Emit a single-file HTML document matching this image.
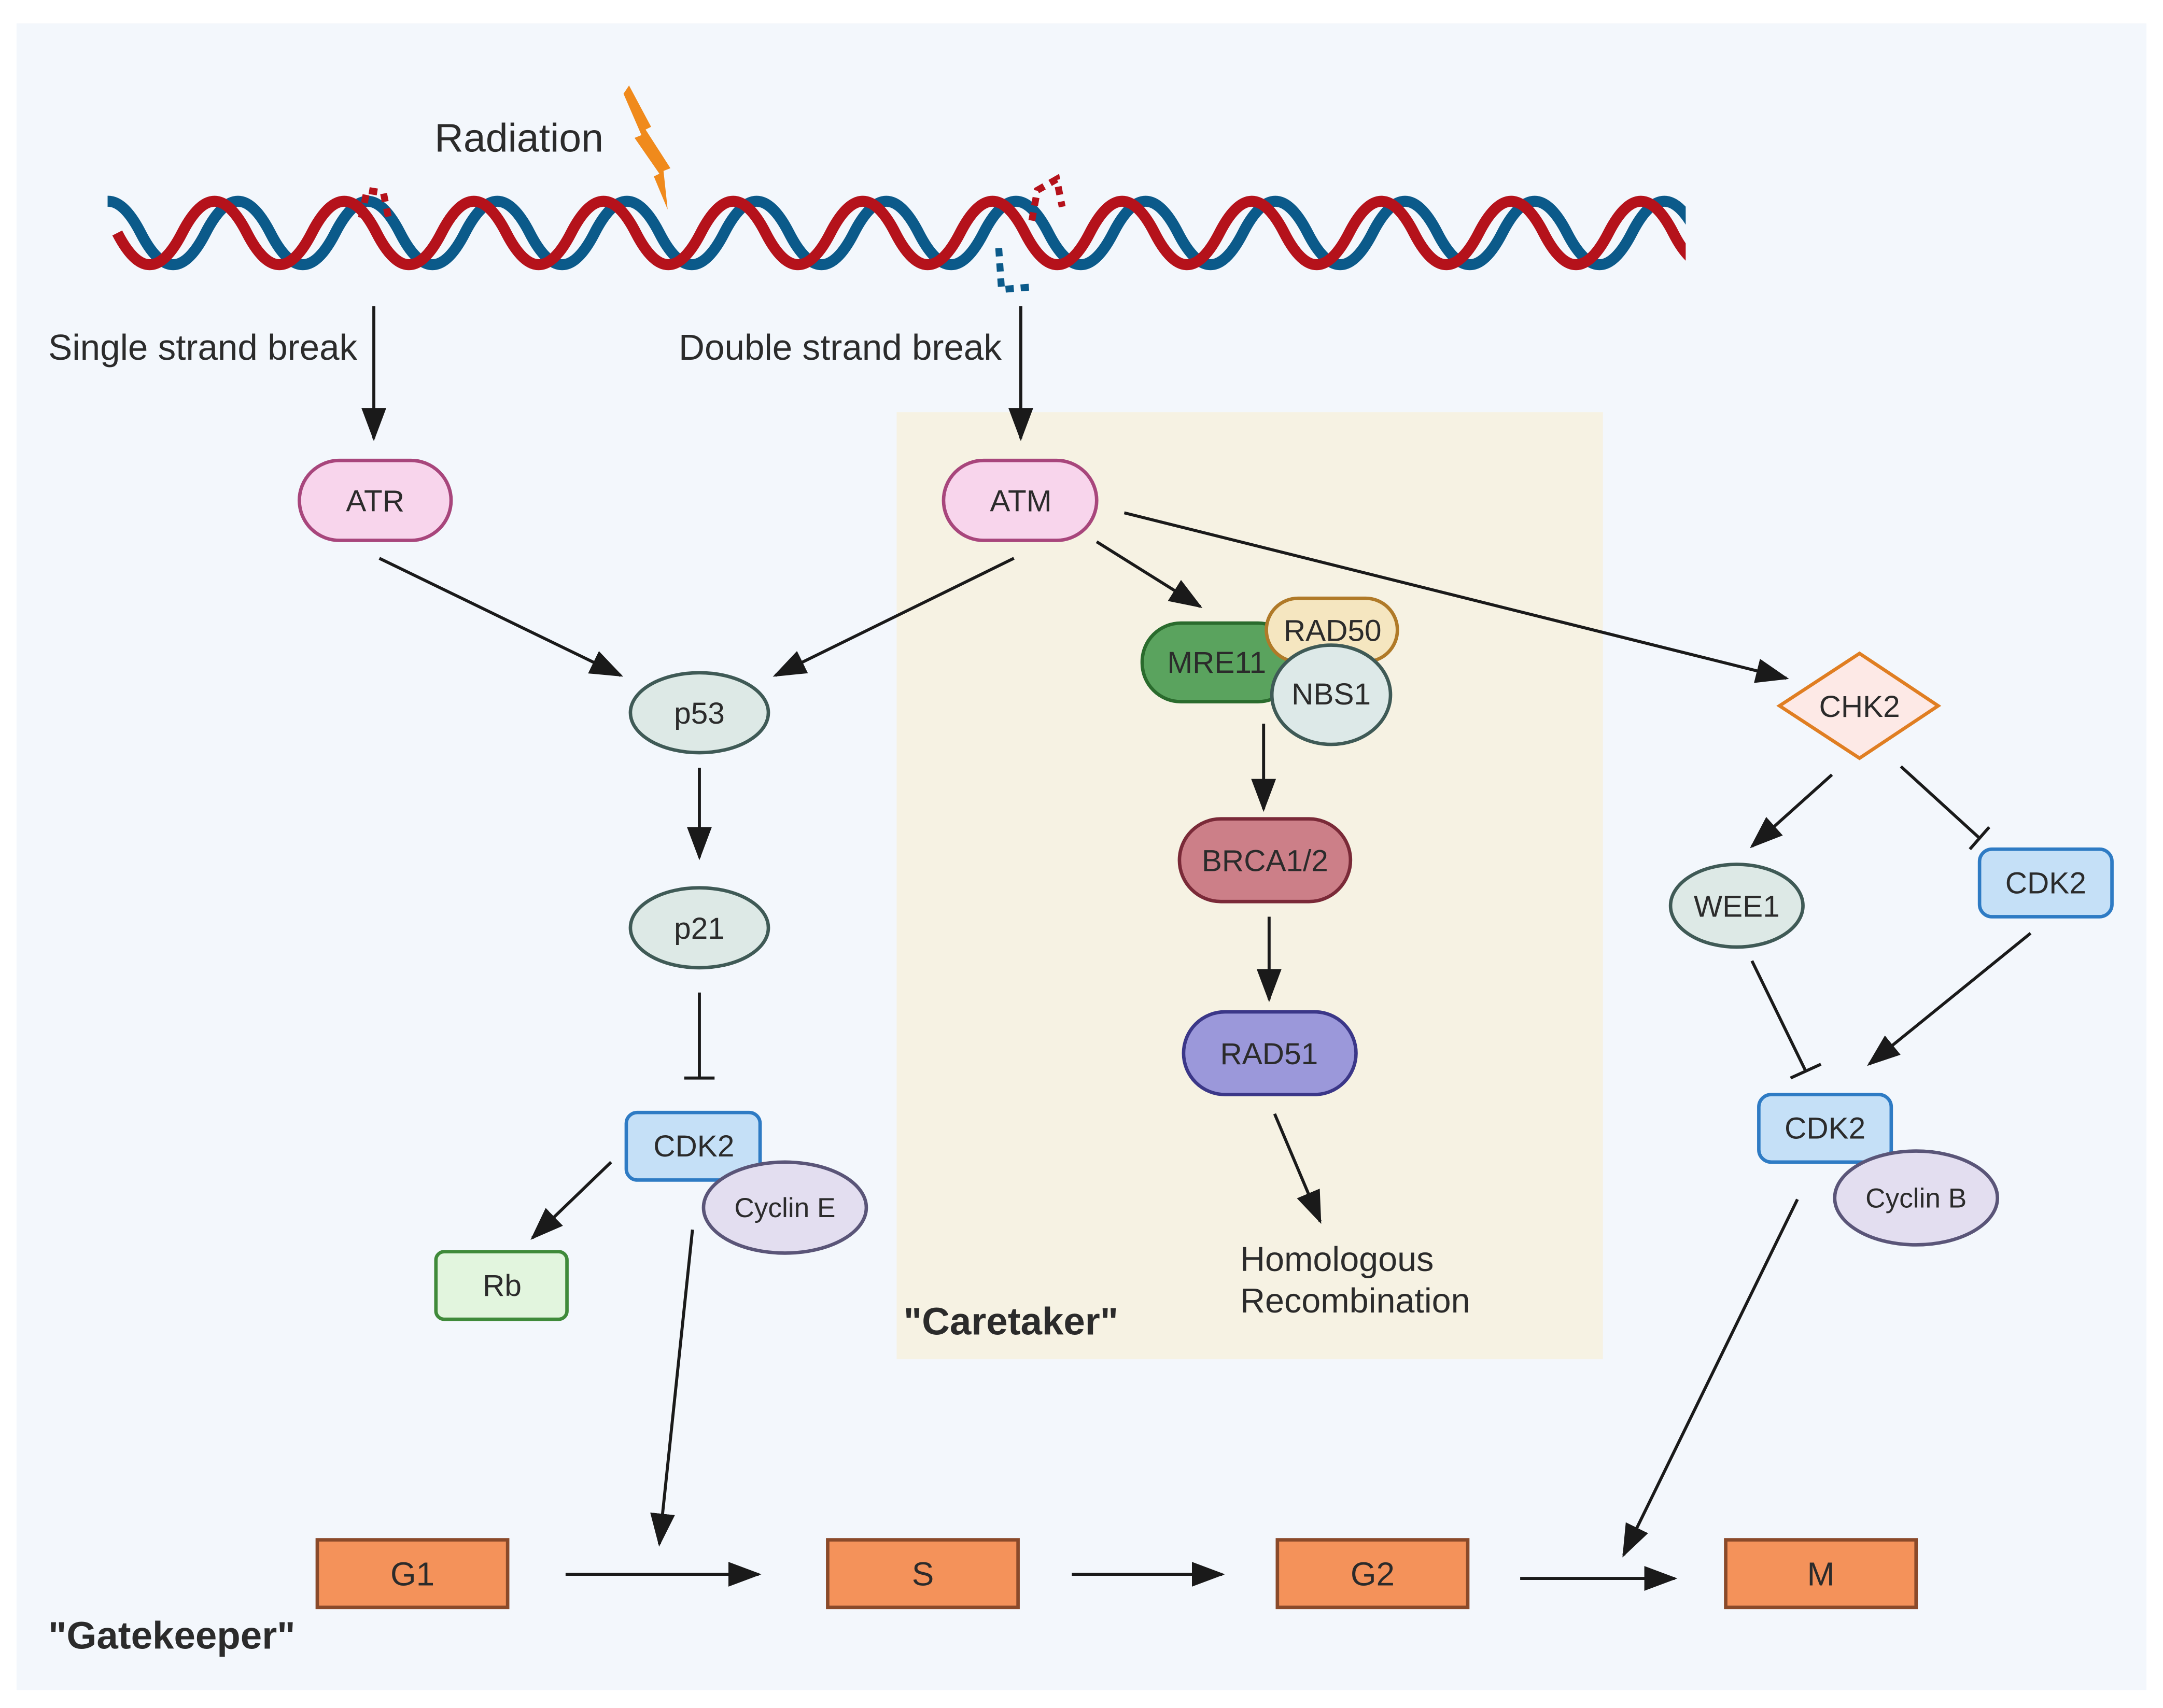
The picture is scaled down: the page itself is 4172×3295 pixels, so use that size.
<!DOCTYPE html>
<html><head><meta charset="utf-8"><style>html,body{margin:0;padding:0;background:#fff}svg{display:block}text{font-family:"Liberation Sans",sans-serif;fill:#2b2b2b}</style></head>
<body>
<svg width="4172" height="3295" viewBox="0 0 1568 1239" preserveAspectRatio="none" xmlns="http://www.w3.org/2000/svg">
<defs>
<marker id="a" markerUnits="userSpaceOnUse" markerWidth="26" markerHeight="20" refX="22" refY="9" orient="auto"><path d="M0,0 L24,9 L0,18 Z" fill="#1a1a1a"/></marker>
<clipPath id="c"><rect x="78" y="110" width="1144" height="110"/></clipPath>
</defs>
<rect x="0" y="0" width="1568" height="1239" fill="#fff"/>
<rect x="12" y="17" width="1544" height="1209" fill="#f3f7fc"/>
<rect x="650" y="299" width="512" height="687" fill="#f6f2e3"/>

<g clip-path="url(#c)" fill="none" stroke-width="8">
<path stroke="#0b5a8a" d="M55,169 Q78.5,123 102,169 T149,169 T196,169 T243,169 T290,169 T337,169 T384,169 T431,169 T478,169 T525,169 T572,169 T619,169 T666,169 T713,169 T760,169 T807,169 T854,169 T901,169 T948,169 T995,169 T1042,169 T1089,169 T1136,169 T1183,169 T1230,169 T1277,169"/>
<path stroke="#b5121b" d="M85,169 Q108.5,215 132,169 T179,169 T226,169 T273,169 T320,169 T367,169 T414,169 T461,169 T508,169 T555,169 T602,169 T649,169 T696,169 T743,169 T790,169 T837,169 T884,169 T931,169 T978,169 T1025,169 T1072,169 T1119,169 T1166,169 T1213,169 T1260,169"/>
</g>
<g stroke="#b5121b" stroke-width="5" stroke-dasharray="6 5" fill="none">
<path d="M262,158 L266,138 L278,140 L282,160"/>
<path d="M748,160 L752,138 L766,130 L770,150"/>
</g>
<g stroke="#0b5a8a" stroke-width="5" stroke-dasharray="6 5" fill="none">
<path d="M724,180 L726,210 L750,208"/>
</g>
<path d="M456,62 L472,92 L468,94 L486,122 L481,124 L484,152 L474,128 L478,126 L460,100 L465,98 L452,68 Z" fill="#f08a1c"/>

<text x="315" y="110" font-size="29">Radiation</text>
<text x="35" y="261" font-size="26">Single strand break</text>
<text x="492" y="261" font-size="26">Double strand break</text>

<g stroke="#1a1a1a" stroke-width="2.2" fill="none">
<line x1="271" y1="222" x2="271" y2="318" marker-end="url(#a)"/>
<line x1="740" y1="222" x2="740" y2="318" marker-end="url(#a)"/>
<line x1="275" y1="405" x2="450" y2="490" marker-end="url(#a)"/>
<line x1="735" y1="405" x2="562" y2="490" marker-end="url(#a)"/>
<line x1="795" y1="393" x2="870" y2="440" marker-end="url(#a)"/>
<line x1="815" y1="372" x2="1295" y2="492" marker-end="url(#a)"/>
<line x1="507" y1="557" x2="507" y2="622" marker-end="url(#a)"/>
<line x1="507" y1="720" x2="507" y2="782"/><line x1="496" y1="782" x2="518" y2="782"/>
<line x1="443" y1="843" x2="386" y2="898" marker-end="url(#a)"/>
<line x1="502" y1="892" x2="478" y2="1120" marker-end="url(#a)"/>
<line x1="916" y1="525" x2="916" y2="587" marker-end="url(#a)"/>
<line x1="920" y1="665" x2="920" y2="725" marker-end="url(#a)"/>
<line x1="924" y1="808" x2="957" y2="886" marker-end="url(#a)"/>
<line x1="1328" y1="562" x2="1270" y2="614" marker-end="url(#a)"/>
<line x1="1378" y1="556" x2="1435" y2="608"/><line x1="1428" y1="616" x2="1442" y2="600"/>
<line x1="1270" y1="697" x2="1309" y2="777"/><line x1="1298" y1="782" x2="1320" y2="772"/>
<line x1="1472" y1="677" x2="1355" y2="772" marker-end="url(#a)"/>
<line x1="1303" y1="870" x2="1177" y2="1128" marker-end="url(#a)"/>
<line x1="410" y1="1142" x2="550" y2="1142" marker-end="url(#a)"/>
<line x1="777" y1="1142" x2="886" y2="1142" marker-end="url(#a)"/>
<line x1="1102" y1="1145" x2="1214" y2="1145" marker-end="url(#a)"/>
</g>

<g stroke-width="2.5" font-size="22" text-anchor="middle">
<rect x="217" y="334" width="110" height="58" rx="29" fill="#f8d5ec" stroke="#a8467c"/>
<text x="272" y="371" stroke="none">ATR</text>
<rect x="684" y="334" width="111" height="58" rx="29" fill="#f8d5ec" stroke="#a8467c"/>
<text x="740" y="371" stroke="none">ATM</text>
<ellipse cx="507" cy="517" rx="50" ry="29" fill="#dde9e6" stroke="#3f5a56"/>
<text x="507" y="525" stroke="none">p53</text>
<ellipse cx="507" cy="673" rx="50" ry="29" fill="#dde9e6" stroke="#3f5a56"/>
<text x="507" y="681" stroke="none">p21</text>
<rect x="454" y="807" width="97" height="49" rx="8" fill="#c5e0f7" stroke="#2e7bc4"/>
<text x="503" y="839" stroke="none">CDK2</text>
<ellipse cx="569" cy="876" rx="59" ry="33" fill="#e3def0" stroke="#5a5578"/>
<text x="569" y="883" stroke="none" font-size="20">Cyclin E</text>
<rect x="316" y="908" width="95" height="49" rx="6" fill="#e2f5de" stroke="#3f8a3a"/>
<text x="364" y="940" stroke="none">Rb</text>
<rect x="828" y="452" width="112" height="57" rx="28" fill="#5aa35e" stroke="#2a6b2d"/>
<text x="882" y="488" stroke="none">MRE11</text>
<rect x="918" y="434" width="95" height="46" rx="23" fill="#f5e6c0" stroke="#b07a28"/>
<text x="966" y="465" stroke="none">RAD50</text>
<ellipse cx="965" cy="504" rx="43" ry="36" fill="#dde9e8" stroke="#3f5a56"/>
<text x="965" y="511" stroke="none">NBS1</text>
<rect x="855" y="594" width="124" height="60" rx="30" fill="#cc7f88" stroke="#7a2a38"/>
<text x="917" y="632" stroke="none">BRCA1/2</text>
<rect x="858" y="734" width="125" height="60" rx="30" fill="#9b98da" stroke="#3b3788"/>
<text x="920" y="772" stroke="none">RAD51</text>
<path d="M1290,512 L1348,474 L1405,512 L1348,550 Z" fill="#fde9e6" stroke="#e07e22"/>
<text x="1348" y="520" stroke="none">CHK2</text>
<ellipse cx="1259" cy="657" rx="48" ry="30" fill="#dde9e6" stroke="#3f5a56"/>
<text x="1259" y="665" stroke="none">WEE1</text>
<rect x="1435" y="616" width="96" height="49" rx="9" fill="#c5e0f7" stroke="#2e7bc4"/>
<text x="1483" y="648" stroke="none">CDK2</text>
<rect x="1275" y="794" width="96" height="49" rx="9" fill="#c5e0f7" stroke="#2e7bc4"/>
<text x="1323" y="826" stroke="none">CDK2</text>
<ellipse cx="1389" cy="869" rx="59" ry="34" fill="#e3def0" stroke="#5a5578"/>
<text x="1389" y="876" stroke="none" font-size="20">Cyclin B</text>
<rect x="230" y="1117" width="138" height="49" fill="#f4925a" stroke="#8a4a2a"/>
<text x="299" y="1150" stroke="none" font-size="24">G1</text>
<rect x="600" y="1117" width="138" height="49" fill="#f4925a" stroke="#8a4a2a"/>
<text x="669" y="1150" stroke="none" font-size="24">S</text>
<rect x="926" y="1117" width="138" height="49" fill="#f4925a" stroke="#8a4a2a"/>
<text x="995" y="1150" stroke="none" font-size="24">G2</text>
<rect x="1251" y="1117" width="138" height="49" fill="#f4925a" stroke="#8a4a2a"/>
<text x="1320" y="1150" stroke="none" font-size="24">M</text>
</g>

<text x="899" y="922" font-size="25">Homologous</text>
<text x="899" y="952" font-size="25">Recombination</text>
<text x="655" y="968" font-size="28" font-weight="bold">"Caretaker"</text>
<text x="35" y="1196" font-size="28" font-weight="bold">"Gatekeeper"</text>
</svg>
</body></html>
